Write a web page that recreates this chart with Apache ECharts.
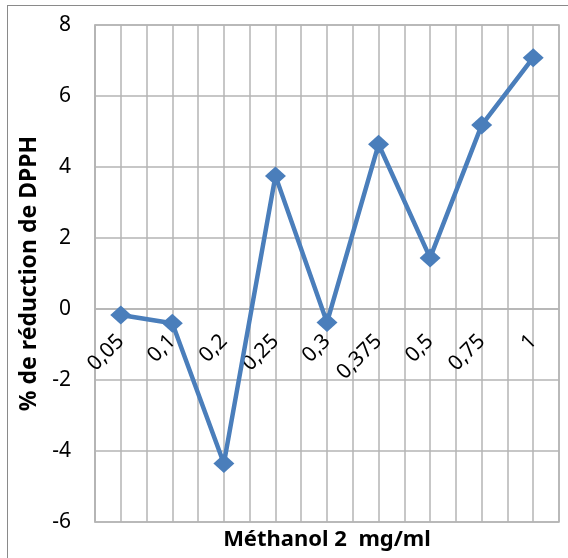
<!DOCTYPE html>
<html>
<head>
<meta charset="utf-8">
<script src="https://cdn.jsdelivr.net/npm/echarts@6/dist/echarts.min.js"></script>
<style>
html,body{margin:0;padding:0;background:#fff;}
#wrap{position:relative;width:568px;height:558px;overflow:hidden;}
#frame{position:absolute;left:7px;top:5px;width:600px;height:600px;border-left:1.5px solid #8a8a8a;border-top:1.5px solid #8a8a8a;}
#chart{position:absolute;left:0;top:0;width:568px;height:558px;}
</style>
</head>
<body>
<div id="wrap"><div id="frame"></div><div id="chart"></div></div>
<script>
const categories = ['0,05', '0,1', '0,2', '0,25', '0,3', '0,375', '0,5', '0,75', '1'];
const reductionDPPH = [-0.17, -0.40, -4.35, 3.75, -0.38, 4.64, 1.44, 5.18, 7.08];
const yMin = -6, yMax = 8, yStep = 2;
const yTitle = '% de réduction de DPPH';
const xTitle = 'Méthanol 2  mg/ml';

const gridColor = '#b4b4b4';
const font = '"Noto Sans", sans-serif';
const W = 568, H = 558;
const gridLeft = 95, gridRight = 9, gridTop = 25, gridBottom = 36;
const plotH = H - gridTop - gridBottom;
// vertical offset that places the category axis on the value 0
const zeroOffset = -plotH * (0 - yMin) / (yMax - yMin);

const chart = echarts.init(document.getElementById('chart'), null, {renderer: 'canvas'});
chart.setOption({
  animation: false,
  backgroundColor: 'transparent',
  grid: {left: gridLeft, right: gridRight, top: gridTop, bottom: gridBottom, containLabel: false, outerBoundsMode: 'none',
         show: true, borderColor: gridColor, borderWidth: 1.5},
  xAxis: [
    {
      type: 'category', data: categories, boundaryGap: true, position: 'bottom', offset: zeroOffset,
      axisLine: {show: true, onZero: false, lineStyle: {color: gridColor, width: 1.5}},
      axisTick: {show: false},
      axisLabel: {rotate: 45, margin: 29, fontSize: 21, color: '#000', fontFamily: font, interval: 0},
      splitLine: {show: false}
    },
    {
      type: 'value', position: 'top', min: 0, max: categories.length * 2, interval: 1,
      axisLine: {show: false}, axisTick: {show: false}, axisLabel: {show: false},
      splitLine: {show: true, lineStyle: {color: gridColor, width: 1.5}}
    }
  ],
  yAxis: {
    type: 'value', min: yMin, max: yMax, interval: yStep,
    axisLine: {show: true, onZero: false, lineStyle: {color: gridColor, width: 1.5}},
    axisTick: {show: false},
    axisLabel: {fontSize: 21, color: '#000', margin: 24, fontFamily: font},
    splitLine: {show: true, lineStyle: {color: gridColor, width: 1.5}},
    name: yTitle, nameLocation: 'middle', nameGap: 52, nameRotate: 90,
    nameTextStyle: {fontSize: 23, fontWeight: 'bold', color: '#000', fontFamily: font}
  },
  graphic: [{
    type: 'text', x: (gridLeft + W - gridRight) / 2, y: 529,
    style: {text: xTitle, align: 'center', verticalAlign: 'top', fontSize: 22, fontWeight: 'bold', fill: '#000', fontFamily: font}
  }],
  series: [{
    type: 'line', xAxisIndex: 0, data: reductionDPPH,
    symbol: 'diamond', symbolSize: [21, 19],
    lineStyle: {color: '#4a7ebb', width: 4.5},
    itemStyle: {color: '#4a7ebb'}
  }]
});
</script>
</body>
</html>
